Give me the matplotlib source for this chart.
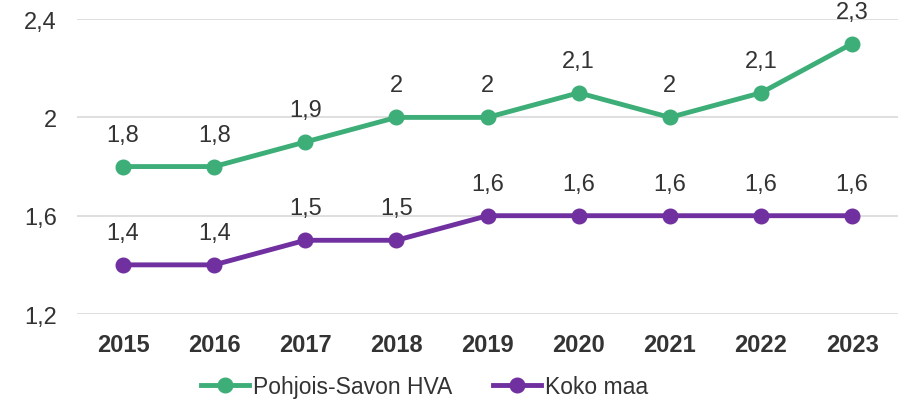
import matplotlib
matplotlib.use("Agg")
import matplotlib.pyplot as plt
from matplotlib.ticker import FixedLocator, FuncFormatter

plt.rcParams['font.family'] = ['Liberation Sans', 'DejaVu Sans']

years = ['2015', '2016', '2017', '2018', '2019', '2020', '2021', '2022', '2023']
pohjois_savo = [1.8, 1.8, 1.9, 2.0, 2.0, 2.1, 2.0, 2.1, 2.3]
koko_maa = [1.4, 1.4, 1.5, 1.5, 1.6, 1.6, 1.6, 1.6, 1.6]

green = '#3DAE78'
purple = '#7030A0'
text_col = '#333333'


def fi(v):
    s = ('%.1f' % v).rstrip('0').rstrip('.')
    return s.replace('.', ',')


fig = plt.figure(figsize=(9.04, 4.02), dpi=100)
ax = fig.add_axes([0.0857, 0.2164, 0.9073, 0.7336])

x = list(range(len(years)))
ax.plot(x, pohjois_savo, color=green, lw=3.5, marker='o', ms=10.5, label='Pohjois-Savon HVA', zorder=3)
ax.plot(x, koko_maa, color=purple, lw=3.5, marker='o', ms=10.5, label='Koko maa', zorder=3)

for xi, v in zip(x, pohjois_savo):
    ax.annotate(fi(v), (xi, v), xytext=(0, 23), textcoords='offset points',
                ha='center', va='center', fontsize=17, color=text_col)
for xi, v in zip(x, koko_maa):
    ax.annotate(fi(v), (xi, v), xytext=(0, 23), textcoords='offset points',
                ha='center', va='center', fontsize=17, color=text_col)

ax.set_xlim(-0.5, len(years) - 0.5)
ax.set_ylim(1.2, 2.4)
ax.yaxis.set_major_locator(FixedLocator([1.2, 1.6, 2.0, 2.4]))
ax.yaxis.set_major_formatter(FuncFormatter(lambda v, p: fi(v)))
ax.set_xticks(x)
ax.set_xticklabels(years, fontweight='bold')
ax.tick_params(axis='both', length=0, labelsize=17, colors=text_col)
ax.tick_params(axis='x', pad=14)
ax.tick_params(axis='y', pad=15)
ax.grid(axis='y', color='#D9D9D9', lw=1.2)
ax.set_axisbelow(True)
for s in ax.spines.values():
    s.set_visible(False)

ax.legend(loc='center', bbox_to_anchor=(0.423, -0.245), ncol=2, frameon=False,
          fontsize=16.5, handlelength=2.1, handletextpad=0.15, columnspacing=1.8,
          labelcolor=text_col)

fig.savefig('out.png', dpi=100)
